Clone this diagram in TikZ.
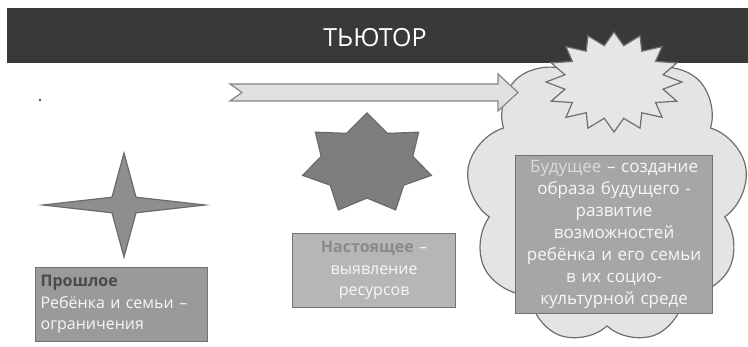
\documentclass[tikz,border=0pt]{standalone}
\usepackage{fontspec}
\setmainfont{Open Sans}
\usetikzlibrary{shapes.symbols}
\definecolor{bandc}{HTML}{393939}
\definecolor{cloudfill}{HTML}{E4E4E4}
\definecolor{cloudline}{HTML}{6E6E6E}
\definecolor{sealfill}{HTML}{E6E6E6}
\definecolor{arrowfill}{HTML}{E0E0E0}
\definecolor{arrowline}{HTML}{858585}
\definecolor{darkstar}{HTML}{7E7E7E}
\definecolor{fourstar}{HTML}{8E8E8E}
\definecolor{starline}{HTML}{6A6A6A}
\definecolor{leftfill}{HTML}{9A9A9A}
\definecolor{midfill}{HTML}{B6B6B6}
\definecolor{rightfill}{HTML}{A6A6A6}
\definecolor{boxline}{HTML}{727272}
\definecolor{pasttxt}{HTML}{4A4A4A}
\definecolor{nowtxt}{HTML}{8A8A8A}
\definecolor{futtxt}{HTML}{DADADA}
\definecolor{wtxt}{HTML}{F7F7F7}
\tikzset{
  outline/.style={line width=1.2pt, line join=miter},
  textbox/.style={draw=boxline, line width=1.2pt, inner sep=0pt, text=wtxt,
    font=\fontsize{16}{21.5}\selectfont},
}
\begin{document}
\begin{tikzpicture}[x=1pt,y=-1pt]
\useasboundingbox (0,0) rectangle (748,347);
\fill[white] (0,0) rectangle (748,347);
% cloud
\node[cloud, cloud puffs=9, cloud puff arc=130, cloud ignores aspect,
  minimum width=282pt, minimum height=300pt, inner sep=0pt,
  draw=cloudline, fill=cloudfill, line width=1.2pt] (cloud) at (607,194) {};
% band
\node[fill=bandc, minimum width=741pt, minimum height=55pt, inner sep=0pt,
  anchor=north west] (band) at (7,8) {};
\node[text=white, font=\fontsize{25}{30}\selectfont] (title) at (375,38) {ТЬЮТОР};
% seal star (16 points)
\draw[outline, draw=cloudline, fill=sealfill]
  plot[samples at={0,...,31}, variable=\k]
  ({614+(68-18*mod(\k,2))*cos(90+\k*11.25)}, {82-(50-13*mod(\k,2))*sin(90+\k*11.25)}) -- cycle;
% notched arrow
\draw[outline, draw=arrowline, fill=arrowfill]
  (230,84) -- (498,84) -- (498,74) -- (518,92.5) -- (498,111) -- (498,101)
  -- (230,101) -- (242,92.5) -- cycle;
% dot
\fill[black!70] (40,100) circle (1.3);
% four point star
\draw[outline, draw=starline, fill=fourstar]
  plot[samples at={0,...,7}, variable=\k]
  ({124+(81-64*mod(\k,2))*cos(90+\k*45)}, {205-(52-41*mod(\k,2))*sin(90+\k*45)}) -- cycle;
% seven point star
\draw[outline, draw=starline, fill=darkstar]
  plot[samples at={0,...,13}, variable=\k]
  ({367+(66-19*mod(\k,2))*cos(90+\k*25.714)}, {164-(51-17*mod(\k,2))*sin(90+\k*25.714)}) -- cycle;
% boxes
\node[textbox, fill=leftfill, minimum width=172pt, minimum height=74pt,
  text width=162pt, align=left, anchor=north west] (past) at (35,267)
  {\textcolor{pasttxt}{\textbf{Прошлое}}\\Ребёнка и семьи –\\ограничения};
\node[textbox, fill=midfill, minimum width=163pt, minimum height=74pt,
  text width=150pt, align=center, anchor=north west] (now) at (292,233)
  {\textcolor{nowtxt}{\textbf{Настоящее}} –\\выявление\\ресурсов};
\node[textbox, fill=rightfill, minimum width=197pt, minimum height=158pt,
  text width=192pt, align=center, anchor=north west,
  font=\fontsize{17}{22}\selectfont] (future) at (515,155)
  {\textcolor{futtxt}{Будущее} – создание\\образа будущего -\\развитие\\возможностей\\ребёнка и его семьи\\в их социо-\\культурной среде};
\end{tikzpicture}
\end{document}
